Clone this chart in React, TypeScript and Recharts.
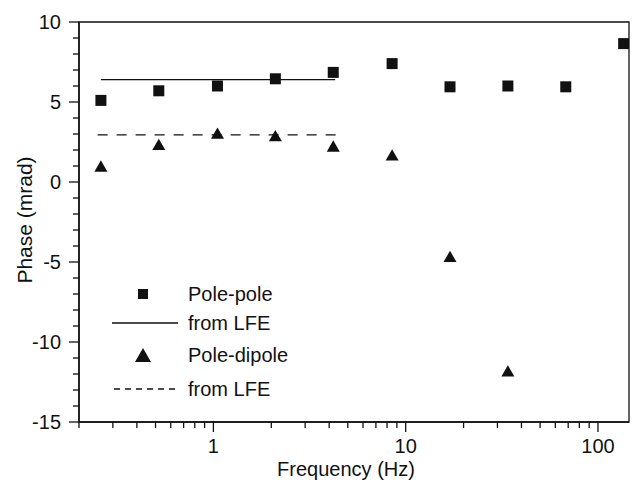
import {
  ScatterChart,
  Scatter,
  XAxis,
  YAxis,
  ReferenceArea,
  Legend,
} from "recharts";

// frequencies (Hz) of the measurements
const freqPolePole = [0.26, 0.52, 1.05, 2.1, 4.2, 8.5, 17, 34, 68, 136];
const phasePolePole = [5.1, 5.7, 6.0, 6.45, 6.85, 7.4, 5.95, 6.0, 5.95, 8.65];

const freqPoleDipole = [0.26, 0.52, 1.05, 2.1, 4.2, 8.5, 17, 34];
const phasePoleDipole = [1.0, 2.35, 3.05, 2.9, 2.25, 1.7, -4.65, -11.8];

// values predicted from LFE
const lfeFreqPolePole = [0.26, 4.3];
const lfePolePole = [6.4, 6.4];
const lfeFreqPoleDipole = [0.25, 4.6];
const lfePoleDipole = [2.95, 2.95];

const xMajorTicks = [1, 10, 100];
const xTicks = [
  0.2, 0.3, 0.4, 0.5, 0.6, 0.7, 0.8, 0.9,
  1, 2, 3, 4, 5, 6, 7, 8, 9,
  10, 20, 30, 40, 50, 60, 70, 80, 90,
  100,
];
const yMajorTicks = [-15, -10, -5, 0, 5, 10];
const yTicks = [
  -15, -14, -13, -12, -11, -10, -9, -8, -7, -6, -5, -4, -3, -2, -1,
  0, 1, 2, 3, 4, 5, 6, 7, 8, 9, 10,
];
const legendLabels = ["Pole-pole", "from LFE", "Pole-dipole", "from LFE"];

const toPoints = (xs: number[], ys: number[]) =>
  xs.map((f, i) => ({ f, v: ys[i] }));

const polePole = toPoints(freqPolePole, phasePolePole);
const poleDipole = toPoints(freqPoleDipole, phasePoleDipole);
const lfePP = toPoints(lfeFreqPolePole, lfePolePole);
const lfePD = toPoints(lfeFreqPoleDipole, lfePoleDipole);

const INK = "#111";
const FONT = "'Liberation Sans', Arial, Helvetica, sans-serif";

// ticks point outward, majors longer and labelled
const XTick = (props: any) => {
  const { x, y, payload } = props;
  const major = xMajorTicks.includes(payload.value);
  return (
    <g>
      <line x1={x} y1={y} x2={x} y2={y + (major ? 10 : 6)} stroke={INK} strokeWidth={1.3} />
      {major && (
        <text x={x} y={y + 31} textAnchor="middle" fontSize={20} fontFamily={FONT} fill={INK}>
          {payload.value}
        </text>
      )}
    </g>
  );
};

const YTick = (props: any) => {
  const { x, y, payload } = props;
  const major = yMajorTicks.includes(payload.value);
  return (
    <g>
      <line x1={x - (major ? 10 : 6)} y1={y} x2={x} y2={y} stroke={INK} strokeWidth={1.3} />
      {major && (
        <text x={x - 18} y={y} dy="0.36em" textAnchor="end" fontSize={20} fontFamily={FONT} fill={INK}>
          {payload.value}
        </text>
      )}
    </g>
  );
};

const Square = (props: any) => (
  <rect x={props.cx - 5.5} y={props.cy - 5.5} width={11} height={11} fill={INK} />
);

const Triangle = (props: any) => {
  const { cx, cy } = props;
  const s = 13;
  const h = s * 0.866;
  return (
    <polygon
      points={`${cx},${cy - h / 2} ${cx - s / 2},${cy + h / 2} ${cx + s / 2},${cy + h / 2}`}
      fill={INK}
    />
  );
};

const NoShape = () => <g />;

const renderLegend = () => (
  <svg width={200} height={130} style={{ fontFamily: FONT }}>
    <rect x={38} y={11} width={10} height={10} fill={INK} />
    <text x={88} y={23} fontSize={20} fill={INK}>{legendLabels[0]}</text>
    <line x1={12} y1={45} x2={78} y2={45} stroke={INK} strokeWidth={1.3} />
    <text x={88} y={52} fontSize={20} fill={INK}>{legendLabels[1]}</text>
    <polygon points="43,70 35,84 51,84" fill={INK} />
    <text x={88} y={84} fontSize={20} fill={INK}>{legendLabels[2]}</text>
    <line x1={14} y1={111} x2={78} y2={111} stroke={INK} strokeWidth={1.3} strokeDasharray="6 5" />
    <text x={88} y={118} fontSize={20} fill={INK}>{legendLabels[3]}</text>
  </svg>
);

export default function App() {
  return (
    <div style={{ position: "absolute", left: 0, top: 0, fontFamily: FONT, background: "#fff" }}>
      <ScatterChart width={634} height={490} margin={{ top: 22, right: 5, bottom: 0, left: 0 }}>
        <XAxis
          type="number"
          dataKey="f"
          scale="log"
          domain={[0.2, 145]}
          allowDataOverflow
          ticks={xTicks}
          interval={0}
          tick={<XTick />}
          tickLine={false}
          tickSize={0}
          tickMargin={0}
          height={68}
          axisLine={{ stroke: INK, strokeWidth: 1.5 }}
          label={{
            value: "Frequency (Hz)",
            position: "insideBottom",
            offset: 14,
            dx: -8,
            fontSize: 20,
            fill: INK,
          }}
        />
        <YAxis
          type="number"
          dataKey="v"
          domain={[-15, 10]}
          allowDataOverflow
          ticks={yTicks}
          interval={0}
          tick={<YTick />}
          tickLine={false}
          tickSize={0}
          tickMargin={0}
          width={79}
          axisLine={{ stroke: INK, strokeWidth: 1.5 }}
          label={{
            value: "Phase (mrad)",
            angle: -90,
            position: "insideLeft",
            offset: 25,
            dy: -2,
            fontSize: 21,
            fill: INK,
            style: { textAnchor: "middle" },
          }}
        />
        <ReferenceArea
          x1={0.2}
          x2={145}
          y1={-15}
          y2={10}
          fill="none"
          fillOpacity={0}
          stroke={INK}
          strokeWidth={1.3}
          strokeOpacity={1}
        />
        <Scatter
          name="from LFE pp"
          data={lfePP}
          line={{ stroke: INK, strokeWidth: 1.3 }}
          shape={NoShape}
          isAnimationActive={false}
        />
        <Scatter
          name="from LFE pd"
          data={lfePD}
          line={{ stroke: INK, strokeWidth: 1.3, strokeDasharray: "10 9" }}
          shape={NoShape}
          isAnimationActive={false}
        />
        <Scatter name="Pole-pole" data={polePole} shape={Square} isAnimationActive={false} />
        <Scatter name="Pole-dipole" data={poleDipole} shape={Triangle} isAnimationActive={false} />
        <Legend
          layout="vertical"
          align="center"
          verticalAlign="middle"
          content={renderLegend}
          wrapperStyle={{ left: 100, top: 278, width: 200, height: 130 }}
        />
      </ScatterChart>
    </div>
  );
}
